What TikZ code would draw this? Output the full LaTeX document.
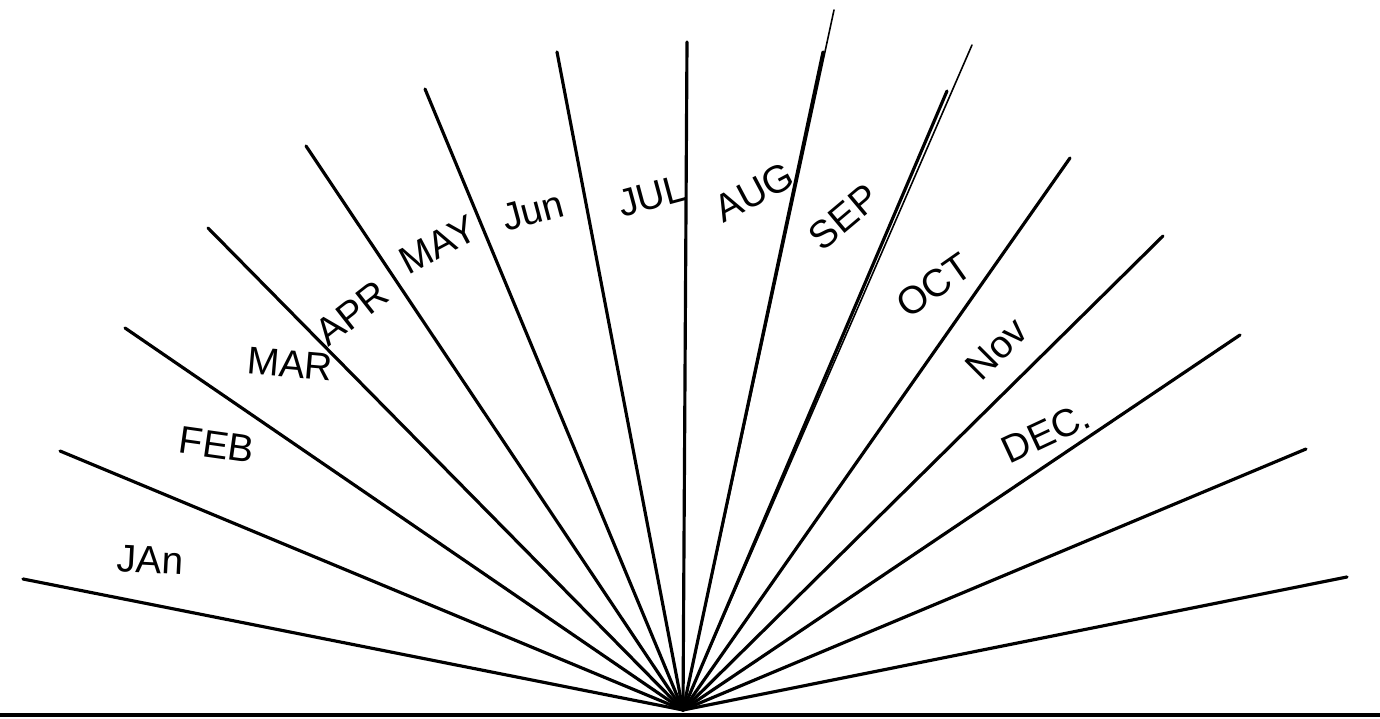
\documentclass[tikz,border=0pt]{standalone}
\usepackage{fontspec}
\setmainfont{Liberation Sans}

\tikzset{
    spoke/.style={line width=0.9pt, line cap=round},
    faint/.style={line width=0.45pt, line cap=round},
    month/.style={inner sep=0pt, font=\fontsize{11}{13}\selectfont},
}

\begin{document}
\begin{tikzpicture}
        \useasboundingbox (0,0) rectangle (13.8,7.19);

            \coordinate (o) at (6.83,0.09);
            \coordinate (e1) at (0.23,1.40);
            \coordinate (e2) at (0.60,2.68);
            \coordinate (e3) at (1.25,3.91);
            \coordinate (e4) at (2.08,4.91);
            \coordinate (e5) at (3.06,5.73);
            \coordinate (e6) at (4.25,6.30);
            \coordinate (e7) at (5.57,6.67);
            \coordinate (e8) at (6.87,6.77);
            \coordinate (e9) at (8.23,6.67);
            \coordinate (e10) at (9.47,6.28);
            \coordinate (e11) at (10.70,5.61);
            \coordinate (e12) at (11.63,4.83);
            \coordinate (e13) at (12.40,3.84);
            \coordinate (e14) at (13.06,2.70);
            \coordinate (e15) at (13.47,1.42);
            \coordinate (t9) at (8.34,7.09);
            \coordinate (t10) at (9.72,6.74);
            \coordinate (bl) at (0,0.04);
            \coordinate (br) at (13.8,0.04);

            % base line
            \draw [spoke] (bl) -- (br);

            % the fan
            \draw [spoke] (o) -- (e1);
            \draw [spoke] (o) -- (e2);
            \draw [spoke] (o) -- (e3);
            \draw [spoke] (o) -- (e4);
            \draw [spoke] (o) -- (e5);
            \draw [spoke] (o) -- (e6);
            \draw [spoke] (o) -- (e7);
            \draw [spoke] (o) -- (e8);
            \draw [spoke] (o) -- (e9);
            \draw [spoke] (o) -- (e10);
            \draw [spoke] (o) -- (e11);
            \draw [spoke] (o) -- (e12);
            \draw [spoke] (o) -- (e13);
            \draw [spoke] (o) -- (e14);
            \draw [spoke] (o) -- (e15);
            \draw [faint] (o) -- (t9);
            \draw [faint] (o) -- (t10);

            \node [month, rotate=-3] (jan) at (1.50,1.59) {JAn};
            \node [month, rotate=-8] (feb) at (2.17,2.74) {FEB};
            \node [month, rotate=-5] (mar) at (2.90,3.55) {MAR};
            \node [month, rotate=38] (apr) at (3.52,4.06) {APR};
            \node [month, rotate=28] (may) at (4.38,4.74) {MAY};
            \node [month, rotate=15] (jun) at (5.33,5.08) {Jun};
            \node [month, rotate=15] (jul) at (6.52,5.23) {JUL};
            \node [month, rotate=28] (aug) at (7.54,5.27) {AUG};
            \node [month, rotate=40] (sep) at (8.44,5.02) {SEP};
            \node [month, rotate=35] (oct) at (9.34,4.34) {OCT};
            \node [month, rotate=45] (nov) at (9.97,3.70) {Nov};
            \node [month, rotate=25] (dec) at (10.46,2.86) {DEC.};

        \end{tikzpicture}
\end{document}
